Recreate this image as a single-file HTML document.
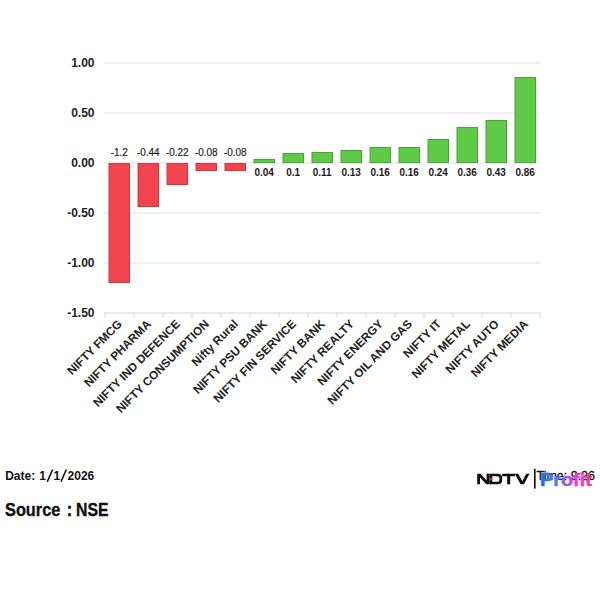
<!DOCTYPE html>
<html><head><meta charset="utf-8"><title>chart</title>
<style>
html,body{margin:0;padding:0;background:#fff;}
body{width:600px;height:600px;position:relative;overflow:hidden;font-family:"Liberation Sans",sans-serif;}
</style></head><body>
<svg width="600" height="600" viewBox="0 0 600 600" style="position:absolute;left:0;top:0" font-family="Liberation Sans, sans-serif">
<rect x="104" y="62.5" width="436.0" height="1" fill="#e2e2e2"/>
<rect x="104" y="112.5" width="436.0" height="1" fill="#e2e2e2"/>
<rect x="104" y="162.5" width="436.0" height="1" fill="#e2e2e2"/>
<rect x="104" y="212.5" width="436.0" height="1" fill="#e2e2e2"/>
<rect x="104" y="262.5" width="436.0" height="1" fill="#e2e2e2"/>
<rect x="104" y="312.5" width="436.0" height="1" fill="#d6d6d6"/>
<rect x="104.5" y="312.5" width="1" height="5.5" fill="#d6d6d6"/>
<rect x="133.5" y="312.5" width="1" height="5.5" fill="#d6d6d6"/>
<rect x="162.5" y="312.5" width="1" height="5.5" fill="#d6d6d6"/>
<rect x="191.5" y="312.5" width="1" height="5.5" fill="#d6d6d6"/>
<rect x="220.5" y="312.5" width="1" height="5.5" fill="#d6d6d6"/>
<rect x="249.5" y="312.5" width="1" height="5.5" fill="#d6d6d6"/>
<rect x="278.5" y="312.5" width="1" height="5.5" fill="#d6d6d6"/>
<rect x="307.5" y="312.5" width="1" height="5.5" fill="#d6d6d6"/>
<rect x="336.5" y="312.5" width="1" height="5.5" fill="#d6d6d6"/>
<rect x="365.5" y="312.5" width="1" height="5.5" fill="#d6d6d6"/>
<rect x="394.5" y="312.5" width="1" height="5.5" fill="#d6d6d6"/>
<rect x="423.5" y="312.5" width="1" height="5.5" fill="#d6d6d6"/>
<rect x="452.5" y="312.5" width="1" height="5.5" fill="#d6d6d6"/>
<rect x="481.5" y="312.5" width="1" height="5.5" fill="#d6d6d6"/>
<rect x="510.5" y="312.5" width="1" height="5.5" fill="#d6d6d6"/>
<rect x="539.5" y="312.5" width="1" height="5.5" fill="#d6d6d6"/>
<text x="94.500" y="67.3" text-anchor="end" font-size="12" font-weight="bold" fill="#222">1.00</text>
<text x="94.500" y="117.3" text-anchor="end" font-size="12" font-weight="bold" fill="#222">0.50</text>
<text x="94.500" y="167.3" text-anchor="end" font-size="12" font-weight="bold" fill="#222">0.00</text>
<text x="94.500" y="217.3" text-anchor="end" font-size="12" font-weight="bold" fill="#222">-0.50</text>
<text x="94.500" y="267.3" text-anchor="end" font-size="12" font-weight="bold" fill="#222">-1.00</text>
<text x="94.500" y="317.3" text-anchor="end" font-size="12" font-weight="bold" fill="#222">-1.50</text>
<rect x="109.00" y="163.5" width="20.50" height="119.0" fill="#f2444c" stroke="#d8343d" stroke-width="1"/>
<text x="119.3" y="155.8" text-anchor="middle" font-size="10" fill="#1a1a1a" stroke="#1a1a1a" stroke-width="0.15">-1.2</text>
<text transform="translate(122.8,324.7) rotate(-45)" text-anchor="end" font-size="11.800" font-weight="bold" fill="#222">NIFTY FMCG</text>
<rect x="138.00" y="163.5" width="20.50" height="43.0" fill="#f2444c" stroke="#d8343d" stroke-width="1"/>
<text x="148.3" y="155.8" text-anchor="middle" font-size="10" fill="#1a1a1a" stroke="#1a1a1a" stroke-width="0.15">-0.44</text>
<text transform="translate(151.8,324.7) rotate(-45)" text-anchor="end" font-size="11.800" font-weight="bold" fill="#222">NIFTY PHARMA</text>
<rect x="167.00" y="163.5" width="20.50" height="21.0" fill="#f2444c" stroke="#d8343d" stroke-width="1"/>
<text x="177.3" y="155.8" text-anchor="middle" font-size="10" fill="#1a1a1a" stroke="#1a1a1a" stroke-width="0.15">-0.22</text>
<text transform="translate(180.8,324.7) rotate(-45)" text-anchor="end" font-size="11.800" font-weight="bold" fill="#222">NIFTY IND DEFENCE</text>
<rect x="196.00" y="163.5" width="20.50" height="7.0" fill="#f2444c" stroke="#d8343d" stroke-width="1"/>
<text x="206.3" y="155.8" text-anchor="middle" font-size="10" fill="#1a1a1a" stroke="#1a1a1a" stroke-width="0.15">-0.08</text>
<text transform="translate(209.8,324.7) rotate(-45)" text-anchor="end" font-size="11.800" font-weight="bold" fill="#222">NIFTY CONSUMPTION</text>
<rect x="225.00" y="163.5" width="20.50" height="7.0" fill="#f2444c" stroke="#d8343d" stroke-width="1"/>
<text x="235.3" y="155.8" text-anchor="middle" font-size="10" fill="#1a1a1a" stroke="#1a1a1a" stroke-width="0.15">-0.08</text>
<text transform="translate(238.8,324.7) rotate(-45)" text-anchor="end" font-size="11.800" font-weight="bold" fill="#222">Nifty Rural</text>
<rect x="254.00" y="159.5" width="20.50" height="3.1" fill="#5fca48" stroke="#48a437" stroke-width="1"/>
<text x="264.2" y="176.2" text-anchor="middle" font-size="10" font-weight="bold" fill="#1a1a1a">0.04</text>
<text transform="translate(267.8,324.7) rotate(-45)" text-anchor="end" font-size="11.800" font-weight="bold" fill="#222">NIFTY PSU BANK</text>
<rect x="283.00" y="153.5" width="20.50" height="9.1" fill="#5fca48" stroke="#48a437" stroke-width="1"/>
<text x="293.2" y="176.2" text-anchor="middle" font-size="10" font-weight="bold" fill="#1a1a1a">0.1</text>
<text transform="translate(296.8,324.7) rotate(-45)" text-anchor="end" font-size="11.800" font-weight="bold" fill="#222">NIFTY FIN SERVICE</text>
<rect x="312.00" y="152.5" width="20.50" height="10.1" fill="#5fca48" stroke="#48a437" stroke-width="1"/>
<text x="322.2" y="176.2" text-anchor="middle" font-size="10" font-weight="bold" fill="#1a1a1a">0.11</text>
<text transform="translate(325.8,324.7) rotate(-45)" text-anchor="end" font-size="11.800" font-weight="bold" fill="#222">NIFTY BANK</text>
<rect x="341.00" y="150.5" width="20.50" height="12.1" fill="#5fca48" stroke="#48a437" stroke-width="1"/>
<text x="351.2" y="176.2" text-anchor="middle" font-size="10" font-weight="bold" fill="#1a1a1a">0.13</text>
<text transform="translate(354.8,324.7) rotate(-45)" text-anchor="end" font-size="11.800" font-weight="bold" fill="#222">NIFTY REALTY</text>
<rect x="370.00" y="147.5" width="20.50" height="15.1" fill="#5fca48" stroke="#48a437" stroke-width="1"/>
<text x="380.2" y="176.2" text-anchor="middle" font-size="10" font-weight="bold" fill="#1a1a1a">0.16</text>
<text transform="translate(383.8,324.7) rotate(-45)" text-anchor="end" font-size="11.800" font-weight="bold" fill="#222">NIFTY ENERGY</text>
<rect x="399.00" y="147.5" width="20.50" height="15.1" fill="#5fca48" stroke="#48a437" stroke-width="1"/>
<text x="409.2" y="176.2" text-anchor="middle" font-size="10" font-weight="bold" fill="#1a1a1a">0.16</text>
<text transform="translate(412.8,324.7) rotate(-45)" text-anchor="end" font-size="11.800" font-weight="bold" fill="#222">NIFTY OIL AND GAS</text>
<rect x="428.00" y="139.5" width="20.50" height="23.1" fill="#5fca48" stroke="#48a437" stroke-width="1"/>
<text x="438.2" y="176.2" text-anchor="middle" font-size="10" font-weight="bold" fill="#1a1a1a">0.24</text>
<text transform="translate(441.8,324.7) rotate(-45)" text-anchor="end" font-size="11.800" font-weight="bold" fill="#222">NIFTY IT</text>
<rect x="457.00" y="127.5" width="20.50" height="35.1" fill="#5fca48" stroke="#48a437" stroke-width="1"/>
<text x="467.2" y="176.2" text-anchor="middle" font-size="10" font-weight="bold" fill="#1a1a1a">0.36</text>
<text transform="translate(470.8,324.7) rotate(-45)" text-anchor="end" font-size="11.800" font-weight="bold" fill="#222">NIFTY METAL</text>
<rect x="486.00" y="120.5" width="20.50" height="42.1" fill="#5fca48" stroke="#48a437" stroke-width="1"/>
<text x="496.2" y="176.2" text-anchor="middle" font-size="10" font-weight="bold" fill="#1a1a1a">0.43</text>
<text transform="translate(499.8,324.7) rotate(-45)" text-anchor="end" font-size="11.800" font-weight="bold" fill="#222">NIFTY AUTO</text>
<rect x="515.00" y="77.5" width="20.50" height="85.1" fill="#5fca48" stroke="#48a437" stroke-width="1"/>
<text x="525.2" y="176.2" text-anchor="middle" font-size="10" font-weight="bold" fill="#1a1a1a">0.86</text>
<text transform="translate(528.8,324.7) rotate(-45)" text-anchor="end" font-size="11.800" font-weight="bold" fill="#222">NIFTY MEDIA</text>
<text x="5.2" y="479.6" font-size="12" font-weight="bold" fill="#111">Date:</text>
<text x="39.2" y="479.6" font-size="12" font-weight="bold" fill="#111">1</text>
<text x="53.4" y="479.6" font-size="12" font-weight="bold" fill="#111">1</text>
<text x="67.6" y="479.6" font-size="12" font-weight="bold" fill="#111">2</text>
<text x="74.3" y="479.6" font-size="12" font-weight="bold" fill="#111">0</text>
<text x="81.0" y="479.6" font-size="12" font-weight="bold" fill="#111">2</text>
<text x="87.6" y="479.6" font-size="12" font-weight="bold" fill="#111">6</text>
<line x1="47.3" y1="481.7" x2="52.599999999999994" y2="469.5" stroke="#111" stroke-width="1.600"/>
<line x1="61.0" y1="481.7" x2="66.3" y2="469.5" stroke="#111" stroke-width="1.600"/>
<text x="5" y="516" font-size="17.600" font-weight="bold" fill="#111" stroke="#111" stroke-width="0.35" textLength="55.300" lengthAdjust="spacingAndGlyphs">Source</text>
<text x="66.600" y="516" font-size="17.600" font-weight="bold" fill="#111" stroke="#111" stroke-width="0.35">:</text>
<text x="76" y="516" font-size="17.600" font-weight="bold" fill="#111" stroke="#111" stroke-width="0.35" textLength="32.500" lengthAdjust="spacingAndGlyphs">NSE</text>
<text x="536.500" y="479.6" font-size="12.500" fill="#111" stroke="#111" stroke-width="0.3" textLength="58.500" lengthAdjust="spacing">Time: 9:26</text>
<defs><linearGradient id="pg" gradientUnits="userSpaceOnUse" x1="540" x2="592" y1="0" y2="0"><stop offset="0" stop-color="#1b6de0"/><stop offset="0.25" stop-color="#3f82ea"/><stop offset="0.48" stop-color="#9060e0"/><stop offset="0.66" stop-color="#e23fe0"/><stop offset="0.8" stop-color="#f23fc0"/><stop offset="1" stop-color="#e04480"/></linearGradient></defs>
<g fill="#0d0d0d">
<path d="M477.2 484.3V473.7H480.6L486.6 480.6V473.7H489.4V484.3H486.1L480 477.3V484.3Z"/>
<path fill-rule="evenodd" d="M489.4 473.7H497.6Q502.200 473.7 502.200 477.8V480.2Q502.200 484.3 497.6 484.3H489.4ZM492.2 476.2V481.8H497.2Q499.4 481.8 499.4 479.9V478.1Q499.4 476.2 497.2 476.2Z"/>
<path d="M502.2 473.7H515V476.3H510.2V484.3H507.2V476.3H502.2Z"/>
<path d="M514.8 473.7H518.2L522.3 481.3L526.3 473.7H529.5L523.9 484.3H520.6Z"/>
<rect x="534" y="468.8" width="1.600" height="19.800"/>
</g>
<circle cx="491" cy="479" r="1.5" fill="#e0202c"/>
<text x="539.900" y="485.700" font-size="18.600" font-weight="bold" fill="url(#pg)" stroke="url(#pg)" stroke-width="0.5" textLength="52" lengthAdjust="spacingAndGlyphs">Profit</text>
</svg>
</body></html>
